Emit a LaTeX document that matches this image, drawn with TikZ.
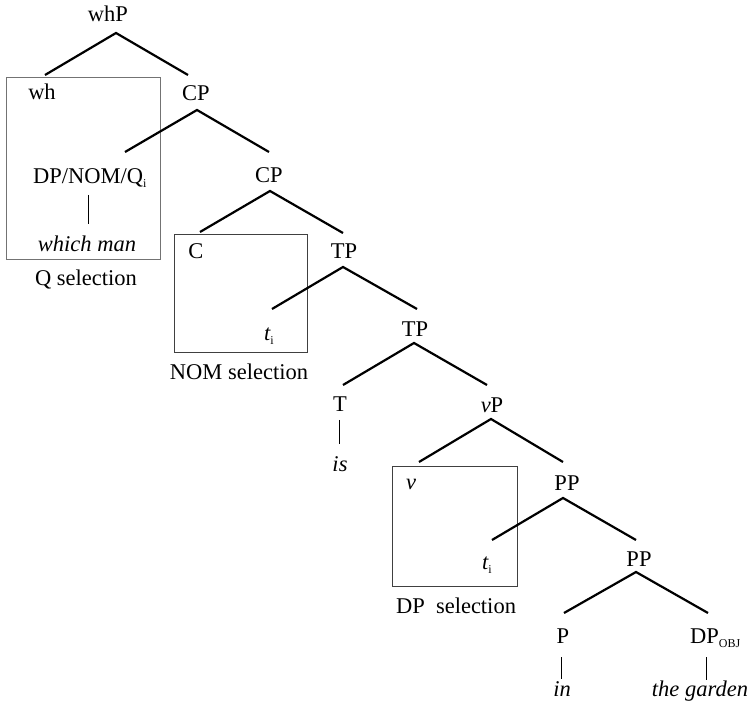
\documentclass[tikz,border=0pt]{standalone}
\usepackage{fontspec}
\setmainfont{Liberation Serif}
\newcommand\mysub[1]{\raisebox{-4pt}{\fontsize{12}{12}\selectfont #1}}
\begin{document}
\begin{tikzpicture}[x=1pt,y=-1pt,
  lab/.style={inner sep=0pt,anchor=base,font=\fontsize{22.5}{26}\selectfont},
  labw/.style={lab,anchor=base west},
  branch/.style={line width=2.2pt,black},
  stem/.style={line width=1pt,black},
  selbox/.style={line width=1pt,draw=black!75}]
\useasboundingbox (0,0) rectangle (756,711);
% boxes
\draw[selbox,draw=black!55] (6,78) rectangle (160,260);
\draw[selbox] (174,235) rectangle (307,353);
\draw[selbox] (392,467) rectangle (517,586);
% labels
\node[lab] (whP) at (108,22) {whP};
\node[lab] (wh) at (42,100) {wh};
\node[lab] (CPa) at (196,101) {CP};
\node[labw] (DPQ) at (33,184) {DP/NOM/Q\mysub{i}};
\node[lab] (which) at (87,252) {\itshape which man};
\node[lab] (Qsel) at (86,286) {Q selection};
\node[lab] (CPb) at (269,183) {CP};
\node[lab] (C) at (196,259) {C};
\node[lab] (TPa) at (344,259) {TP};
\node[labw] (ta) at (264,341) {\itshape t\upshape\mysub{i}};
\node[lab] (TPb) at (415,337) {TP};
\node[lab] (NOMsel) at (239,380) {NOM selection};
\node[lab] (T) at (340,412) {T};
\node[lab] (is) at (340,472) {\itshape is};
\node[lab] (vP) at (492,413) {\itshape v\upshape P};
\node[lab] (v) at (411,490) {\itshape v};
\node[lab] (PPa) at (567,491) {PP};
\node[labw] (tb) at (482,569) {\itshape t\upshape\mysub{i}};
\node[lab] (PPb) at (639,567) {PP};
\node[lab] (DPsel) at (456,613) {DP\ \ selection};
\node[lab] (P) at (563,643) {P};
\node[labw] (DPobj) at (690,643) {DP\mysub{OBJ}};
\node[lab] (in) at (562,696) {\itshape in};
\node[lab] (garden) at (700,696) {\itshape the garden};
% branch coordinates
\coordinate (whP-a) at (116,33);
\coordinate (wh-t) at (45,75);
\coordinate (CPa-t) at (188,75);
\coordinate (CPa-a) at (197,110);
\coordinate (DPQ-t) at (125,152);
\coordinate (CPb-t) at (269,152);
\coordinate (DPQ-b) at (88,195);
\coordinate (which-t) at (88,224);
\coordinate (CPb-a) at (270,191);
\coordinate (C-t) at (200,232);
\coordinate (TPa-t) at (343,233);
\coordinate (TPa-a) at (343,267);
\coordinate (ta-t) at (272,309);
\coordinate (TPb-t) at (417,309);
\coordinate (TPb-a) at (414,343);
\coordinate (T-t) at (343,385);
\coordinate (vP-t) at (487,385);
\coordinate (T-b) at (339,420);
\coordinate (is-t) at (339,444);
\coordinate (vP-a) at (491,419);
\coordinate (v-t) at (419,462);
\coordinate (PPa-t) at (563,462);
\coordinate (PPa-a) at (563,498);
\coordinate (tb-t) at (492,540);
\coordinate (PPb-t) at (636,540);
\coordinate (PPb-a) at (636,572);
\coordinate (P-t) at (564,613);
\coordinate (DPobj-t) at (708,613);
\coordinate (P-b) at (561,657);
\coordinate (in-t) at (561,679);
\coordinate (DPobj-b) at (706,657);
\coordinate (garden-t) at (706,680);
% branches
\draw[branch] (wh-t) -- (whP-a) -- (CPa-t);
\draw[branch] (DPQ-t) -- (CPa-a) -- (CPb-t);
\draw[stem] (DPQ-b) -- (which-t);
\draw[branch] (C-t) -- (CPb-a) -- (TPa-t);
\draw[branch] (ta-t) -- (TPa-a) -- (TPb-t);
\draw[branch] (T-t) -- (TPb-a) -- (vP-t);
\draw[stem] (T-b) -- (is-t);
\draw[branch] (v-t) -- (vP-a) -- (PPa-t);
\draw[branch] (tb-t) -- (PPa-a) -- (PPb-t);
\draw[branch] (P-t) -- (PPb-a) -- (DPobj-t);
\draw[stem] (P-b) -- (in-t);
\draw[stem] (DPobj-b) -- (garden-t);
\end{tikzpicture}
\end{document}
